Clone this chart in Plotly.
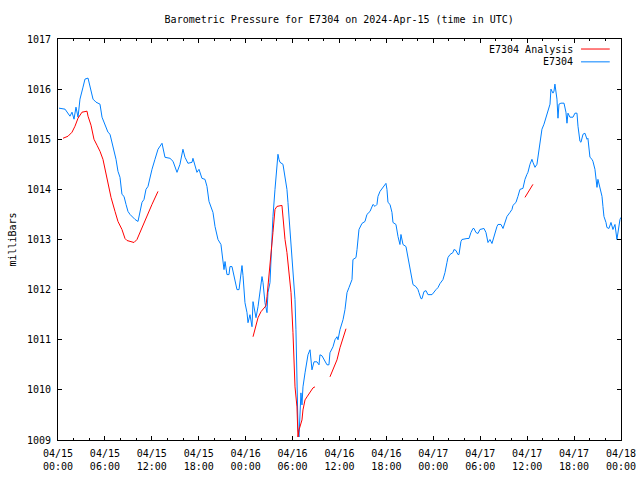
import pandas as pd
import plotly.graph_objects as go

START = "2024-04-15 00:00"

# E7304 observed pressure: hours since start, value (mbar)
obs_hours = [0.13, 0.9, 1.53, 1.79, 2.05, 2.3, 2.56, 2.81, 3.2, 3.45, 3.84, 4.09, 4.48, 4.86, 5.37, 5.63,
             6.01, 6.39, 6.65, 6.91, 7.16, 7.42, 7.67, 7.93, 8.18, 8.44, 8.7, 8.95, 9.21, 9.46, 9.85, 10.23,
             10.49, 10.74, 11.0, 11.25, 11.51, 11.76, 12.02, 12.4, 12.79, 13.3, 13.68, 14.32, 14.71, 15.22,
             15.6, 15.98, 16.24, 16.62, 17.14, 17.26, 17.77, 18.03, 18.41, 18.8, 19.05, 19.31, 19.69, 19.82,
             20.08, 20.46, 20.84, 21.1, 21.23, 21.36, 21.61, 21.87, 21.99, 22.25, 22.63, 22.89, 23.15, 23.27,
             23.53, 23.66, 23.91, 24.17, 24.3, 24.55, 24.81, 24.94, 25.19, 25.32, 25.58, 25.83, 26.09, 26.22,
             26.47, 26.73, 26.85, 27.11, 27.37, 27.49, 27.75, 28.0, 28.13, 28.26, 28.39, 28.77, 29.03, 29.28,
             29.41, 29.67, 29.92, 30.18, 30.31, 30.43, 30.56, 30.6, 30.69, 30.82, 30.95, 31.07, 31.2, 31.33,
             31.59, 31.84, 31.97, 32.23, 32.48, 32.74, 33.12, 33.38, 33.5, 33.76, 34.02, 34.4, 34.65, 34.78,
             35.17, 35.42, 35.68, 35.81, 36.06, 36.45, 36.7, 36.83, 36.96, 37.21, 37.6, 37.72, 38.11, 38.24,
             38.49, 38.87, 39.26, 39.51, 39.9, 40.28, 40.54, 40.79, 40.92, 41.18, 41.56, 41.94, 42.07, 42.2,
             42.46, 42.71, 42.84, 43.22, 43.48, 43.61, 43.73, 43.86, 43.99, 44.12, 44.5, 44.76, 45.01, 45.27,
             45.4, 45.78, 46.04, 46.16, 46.42, 46.55, 46.8, 47.06, 47.31, 47.83, 48.08, 48.34, 48.59, 48.85,
             49.23, 49.49, 49.74, 49.87, 50.13, 50.51, 50.64, 50.9, 51.15, 51.28, 51.53, 51.66, 52.3, 52.56,
             52.81, 53.07, 53.2, 53.45, 53.71, 53.96, 54.48, 54.73, 54.99, 55.24, 55.5, 55.63, 55.88, 56.14,
             56.27, 56.65, 56.91, 57.16, 57.42, 57.8, 58.06, 58.18, 58.57, 58.82, 59.08, 59.46, 59.72, 59.97,
             60.1, 60.36, 60.61, 60.74, 61.0, 61.25, 61.38, 61.64, 61.89, 62.15, 62.4, 62.66, 62.92, 63.04,
             63.3, 63.43, 63.55, 63.81, 63.94, 64.07, 64.32, 64.71, 64.96, 65.09, 65.22, 65.47, 65.86, 66.11,
             66.37, 66.5, 66.75, 66.88, 67.14, 67.39, 67.65, 67.77, 68.03, 68.29, 68.41, 68.67, 68.8, 68.93,
             69.05, 69.31, 69.57, 69.69, 69.82, 70.08, 70.2, 70.46, 70.72, 70.97, 71.23, 71.48, 71.61, 71.87,
             71.99]
obs_values = [1015.62, 1015.6, 1015.46, 1015.54, 1015.4, 1015.64, 1015.44, 1015.8, 1016.04, 1016.2, 1016.22,
              1016.06, 1015.8, 1015.74, 1015.7, 1015.44, 1015.3, 1015.14, 1015.1, 1014.94, 1014.8, 1014.6,
              1014.36, 1014.24, 1013.9, 1013.86, 1013.7, 1013.56, 1013.5, 1013.46, 1013.4, 1013.36, 1013.54,
              1013.74, 1013.8, 1014.0, 1014.06, 1014.26, 1014.4, 1014.6, 1014.8, 1014.92, 1014.64, 1014.62,
              1014.56, 1014.34, 1014.5, 1014.8, 1014.64, 1014.52, 1014.54, 1014.62, 1014.34, 1014.4, 1014.22,
              1014.2, 1014.06, 1013.76, 1013.6, 1013.54, 1013.26, 1013.0, 1012.9, 1012.54, 1012.4, 1012.56,
              1012.3, 1012.3, 1012.46, 1012.46, 1012.16, 1012.0, 1012.0, 1012.2, 1012.48, 1012.28, 1011.74,
              1011.54, 1011.34, 1011.5, 1011.26, 1011.76, 1011.56, 1011.44, 1011.66, 1012.0, 1012.26, 1012.14,
              1011.74, 1011.54, 1011.94, 1012.14, 1013.0, 1013.46, 1014.0, 1014.54, 1014.7, 1014.6, 1014.54,
              1014.5, 1014.26, 1014.0, 1013.74, 1013.2, 1012.54, 1012.1, 1011.8, 1011.2, 1010.34, 1009.94,
              1009.26, 1009.06, 1009.54, 1009.94, 1009.7, 1010.06, 1010.34, 1010.6, 1010.7, 1010.8, 1010.4,
              1010.56, 1010.56, 1010.5, 1010.7, 1010.68, 1010.6, 1010.5, 1010.5, 1010.74, 1010.86, 1011.0,
              1011.06, 1011.0, 1011.2, 1011.4, 1011.6, 1011.8, 1011.94, 1012.04, 1012.2, 1012.6, 1012.64,
              1012.8, 1013.2, 1013.32, 1013.36, 1013.5, 1013.56, 1013.7, 1013.66, 1013.7, 1013.86, 1013.96,
              1014.04, 1014.12, 1014.0, 1013.74, 1013.7, 1013.54, 1013.34, 1013.3, 1013.06, 1012.96, 1012.9,
              1013.1, 1013.0, 1012.9, 1012.86, 1012.64, 1012.4, 1012.2, 1012.1, 1012.06, 1012.0, 1011.94,
              1011.82, 1011.82, 1011.96, 1011.98, 1011.9, 1011.9, 1011.96, 1012.0, 1012.04, 1012.12, 1012.2,
              1012.34, 1012.54, 1012.64, 1012.7, 1012.74, 1012.8, 1012.78, 1012.7, 1012.7, 1012.96, 1013.0,
              1013.02, 1013.02, 1013.14, 1013.22, 1013.22, 1013.14, 1013.12, 1013.2, 1013.22, 1013.14,
              1012.94, 1013.0, 1012.92, 1013.0, 1013.14, 1013.26, 1013.3, 1013.3, 1013.22, 1013.34, 1013.46,
              1013.54, 1013.6, 1013.68, 1013.74, 1013.86, 1014.0, 1014.02, 1014.2, 1014.3, 1014.34, 1014.5,
              1014.6, 1014.54, 1014.44, 1014.5, 1014.66, 1014.96, 1015.2, 1015.3, 1015.44, 1015.54, 1015.7,
              1016.0, 1015.92, 1015.96, 1016.1, 1015.8, 1015.42, 1015.7, 1015.72, 1015.72, 1015.54, 1015.32,
              1015.52, 1015.44, 1015.44, 1015.52, 1015.52, 1015.26, 1014.96, 1014.94, 1015.1, 1015.12,
              1015.0, 1015.02, 1014.64, 1014.6, 1014.56, 1014.4, 1014.16, 1014.04, 1014.2, 1014.04, 1013.86,
              1013.66, 1013.46, 1013.34, 1013.24, 1013.22, 1013.34, 1013.2, 1013.3, 1013.0, 1013.14, 1013.4,
              1013.44]

# E7304 Analysis: segments separated by None gaps
ana_hours = [0.64, 1.28, 1.79, 2.17, 2.56, 3.07, 3.71, 3.84, 4.22, 4.6, 4.99, 5.37, 5.75, 6.27, 6.78, 7.29,
             7.67, 8.18, 8.57, 8.82, 9.72, 10.1, 10.74, 11.38, 12.02, 12.79,
             12.9,
             24.94, 25.19, 25.58, 25.96, 26.34, 26.6, 26.73, 26.85, 27.11, 27.37, 27.49, 27.75, 28.0, 28.64,
             28.77, 29.03, 29.28, 29.54, 29.8, 30.05, 30.18, 30.31, 30.56, 30.69, 30.82, 31.2, 31.33, 31.59,
             31.84, 32.23, 32.61, 32.86,
             33.0,
             34.78, 35.17, 35.68, 36.06, 36.45, 36.83,
             37.0,
             59.72, 60.74]
ana_values = [1015.02, 1015.06, 1015.14, 1015.26, 1015.42, 1015.54, 1015.56, 1015.46, 1015.28, 1015.0,
              1014.88, 1014.76, 1014.6, 1014.24, 1013.84, 1013.56, 1013.36, 1013.2, 1013.02, 1012.98,
              1012.94, 1013.0, 1013.24, 1013.46, 1013.7, 1013.96,
              None,
              1011.06, 1011.2, 1011.44, 1011.56, 1011.64, 1011.68, 1011.86, 1012.06, 1012.46, 1012.8,
              1013.14, 1013.6, 1013.66, 1013.68, 1013.4, 1013.0, 1012.74, 1012.34, 1011.94, 1011.14,
              1010.74, 1010.06, 1009.66, 1009.06, 1009.2, 1009.4, 1009.6, 1009.8, 1009.86, 1009.94,
              1010.04, 1010.06,
              None,
              1010.26, 1010.4, 1010.6, 1010.84, 1011.06, 1011.22,
              None,
              1013.84, 1014.1]

series_names = ["E7304 Analysis", "E7304"]
series_colors = ["#ff0000", "#0080ff"]

t0 = pd.Timestamp(START)
obs_t = [t0 + pd.Timedelta(hours=h) for h in obs_hours]
ana_t = [t0 + pd.Timedelta(hours=h) for h in ana_hours]

FONT = "DejaVu Sans Mono"

fig = go.Figure()
fig.add_trace(go.Scatter(x=obs_t, y=obs_values, mode="lines", name=series_names[1],
                         line=dict(color=series_colors[1], width=1), connectgaps=False))
fig.add_trace(go.Scatter(x=ana_t, y=ana_values, mode="lines", name=series_names[0],
                         line=dict(color=series_colors[0], width=1), connectgaps=False))

axis_common = dict(showline=True, linecolor="black", linewidth=1, mirror="allticks",
                   ticks="inside", ticklen=4, tickcolor="black", tickwidth=1,
                   showgrid=False, zeroline=False, automargin=False,
                   tickfont=dict(family=FONT, size=10, color="black"))

fig.update_xaxes(**axis_common, type="date",
                 range=[t0, t0 + pd.Timedelta(hours=72)],
                 tick0=t0, dtick=6 * 3600 * 1000,
                 tickformat="%m/%d<br>%H:%M", ticklabelstandoff=4,
                 minor=dict(dtick=2 * 3600 * 1000, ticks="inside", ticklen=2,
                            tickcolor="black", showgrid=False))
fig.update_yaxes(**axis_common, range=[1009, 1017], dtick=1, tickformat="d",
                 ticklabelstandoff=4,
                 title=dict(text="milliBars", font=dict(family=FONT, size=10, color="black"),
                            standoff=8))

# gnuplot-style key: right-aligned text followed by a line sample
legend_rows = [0.975, 0.943]
for name, color, yy in zip(series_names, series_colors, legend_rows):
    fig.add_annotation(x=0.918, y=yy, xref="paper", yref="paper", text=name, showarrow=False,
                       xanchor="right", yanchor="middle",
                       font=dict(family=FONT, size=10, color="black"))
    fig.add_shape(type="line", xref="paper", yref="paper", x0=0.929, x1=0.98, y0=yy, y1=yy,
                  line=dict(color=color, width=1))

fig.update_layout(
    width=640, height=480,
    margin=dict(l=58, r=19, t=39, b=40, autoexpand=False),
    paper_bgcolor="white", plot_bgcolor="white",
    showlegend=False,
    title=dict(text="Barometric Pressure for E7304 on 2024-Apr-15 (time in UTC)",
               x=0.53, xanchor="center", y=1 - 19 / 480, yanchor="middle",
               font=dict(family=FONT, size=10, color="black")),
)

fig.write_html("out.html", config={"displayModeBar": False},
               post_script="document.body.style.margin='0';document.body.style.overflow='hidden';")
